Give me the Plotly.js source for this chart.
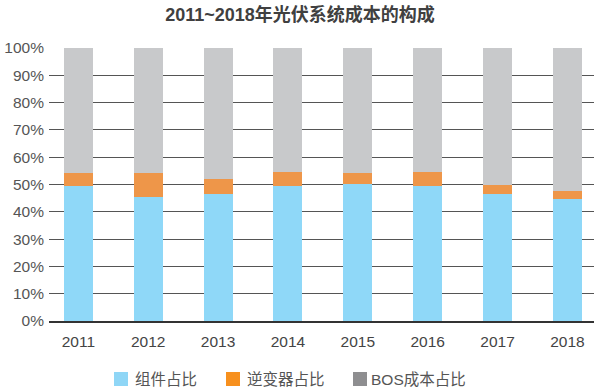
<!DOCTYPE html>
<html>
<head>
<meta charset="utf-8">
<script src="https://cdn.plot.ly/plotly-3.0.1.min.js"></script>
<style>html,body{margin:0;padding:0;background:#fff;}#chart{width:600px;height:391px;}</style>
</head>
<body>
<div id="chart"></div>
<script>
const years = ['2011','2012','2013','2014','2015','2016','2017','2018'];
const moduleShare = [49.5, 45.4, 46.4, 49.5, 50.3, 49.3, 46.6, 44.7];
const inverterShare = [4.8, 8.9, 5.6, 5.2, 4.0, 5.1, 3.3, 2.9];
const bosShare = [45.7, 45.7, 48.0, 45.3, 45.7, 45.6, 50.1, 52.4];
const seriesNames = ['组件占比', '逆变器占比', 'BOS成本占比'];
const yTicks = [0,10,20,30,40,50,60,70,80,90,100];
const yTickLabels = yTicks.map(v => v + '%');

const barColors = ['#8fd8f8', '#ee9649', '#c8c9cb'];
const legendColors = ['#8fd6f6', '#f7901e', '#8e8e90'];
const font = 'Liberation Sans, Arial, Noto Sans CJK SC, sans-serif';

const W = 600, H = 391, L = 49, R = 6, T = 48, B = 70;
const pw = W - L - R, ph = H - T - B;
const px2x = p => (p - L) / pw;
const py2y = p => (H - B - p) / ph;

const dataSeries = [moduleShare, inverterShare, bosShare];
const traces = dataSeries.map((vals, i) => ({
  type: 'bar', x: years, y: vals, name: seriesNames[i],
  marker: {color: barColors[i], line: {width: 0}},
  width: 0.415, showlegend: false
}));

// manual legend (pixel layout)
const legendSquareLeft = [114, 226, 353];
const legendTextLeft = [133, 245, 369];
const legendCy = 379;
const shapes = [], annotations = [];
seriesNames.forEach((n, i) => {
  shapes.push({type: 'rect', xref: 'paper', yref: 'paper',
    x0: px2x(legendSquareLeft[i]), x1: px2x(legendSquareLeft[i] + 14),
    y0: py2y(legendCy + 7), y1: py2y(legendCy - 7),
    fillcolor: legendColors[i], line: {width: 0}});
  annotations.push({xref: 'paper', yref: 'paper', x: px2x(legendTextLeft[i]), y: py2y(legendCy),
    xanchor: 'left', yanchor: 'middle', text: n, showarrow: false,
    font: {family: font, size: 15.5, color: '#555'}});
});

const layout = {
  width: W, height: H,
  margin: {l: L, r: R, t: T, b: B},
  paper_bgcolor: '#fff', plot_bgcolor: '#fff',
  barmode: 'stack',
  title: {text: '<b>2011~2018年光伏系统成本的构成</b>', x: 0.5, xanchor: 'center', y: 0.962, yanchor: 'middle',
          font: {family: font, size: 18, color: '#404040'}},
  xaxis: {type: 'category', range: [-0.42, 7.38], showgrid: false, zeroline: false,
          showline: true, linecolor: '#333', linewidth: 2, ticks: '',
          ticklabelstandoff: 5,
          tickfont: {family: font, size: 15.5, color: '#444'}, fixedrange: true},
  yaxis: {range: [0, 100], tickvals: yTicks, ticktext: yTickLabels, showgrid: true,
          gridcolor: '#555', gridwidth: 1, zeroline: false, showline: false, ticks: '',
          ticklabelstandoff: 4,
          tickfont: {family: font, size: 15.5, color: '#555'}, fixedrange: true},
  showlegend: false,
  shapes: shapes,
  annotations: annotations
};
Plotly.newPlot('chart', traces, layout, {displayModeBar: false, staticPlot: true});
</script>
</body>
</html>
